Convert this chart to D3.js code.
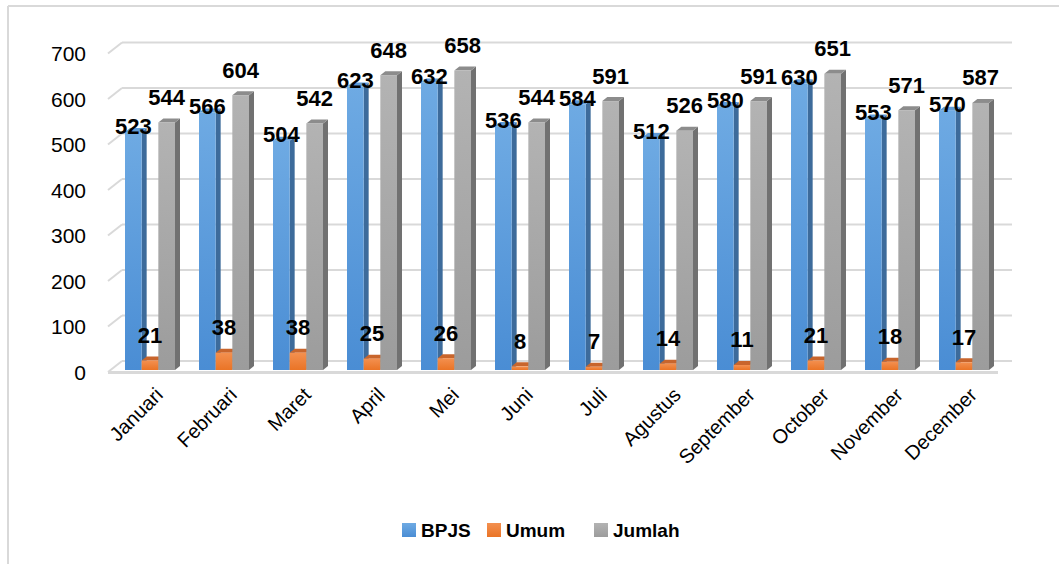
<!DOCTYPE html>
<html>
<head>
<meta charset="utf-8">
<script src="https://cdn.jsdelivr.net/npm/d3@7"></script>
<style>
  html, body { margin: 0; padding: 0; background: #fff; }
  svg { display: block; }
  text { font-family: "Liberation Sans", Arial, sans-serif; }
</style>
</head>
<body>
<svg id="chart" width="1059" height="564"></svg>
<script>
const months = ["Januari","Februari","Maret","April","Mei","Juni","Juli","Agustus","September","October","November","December"];
const bpjs   = [523,566,504,623,632,536,584,512,580,630,553,570];
const umum   = [21,38,38,25,26,8,7,14,11,21,18,17];
const jumlah = [544,604,542,648,658,544,591,526,591,651,571,587];
const seriesNames = ["BPJS","Umum","Jumlah"];
const yTicks = [0,100,200,300,400,500,600,700];

const seriesData = [bpjs, umum, jumlah];
const svg = d3.select("#chart");

// 3D depth offsets
const wallDX = 14, wallDY = -11;   // front -> back wall
const barDX = 5, barDY = -4;       // bar depth

const x0 = d3.scaleBand().domain(months).range([113, 1001]).padding(0);
const x1 = d3.scaleBand().domain(seriesNames).range([12, 62]).padding(0);
const yBar = d3.scaleLinear().domain([0, 700]).range([370, 51.5]);
const yFront = d3.scaleLinear().domain([0, 700]).range([372, 53.5]);

// Gradients
const defs = svg.append("defs");
const palette = {
  BPJS:   {top:"#6eaae3", bottom:"#4a8dd4", side:"#3d6b9b", cap:"#5f9ad6"},
  Umum:   {top:"#f39050", bottom:"#ea7426", side:"#b85a1c", cap:"#c8652c"},
  Jumlah: {top:"#b3b3b3", bottom:"#9c9c9c", side:"#717171", cap:"#8c8c8c"}
};
seriesNames.forEach((s, i) => {
  const g = defs.append("linearGradient").attr("id", "grad" + i)
    .attr("x1", 0).attr("y1", 0).attr("x2", 0).attr("y2", 1);
  g.append("stop").attr("offset", "0%").attr("stop-color", palette[s].top);
  g.append("stop").attr("offset", "100%").attr("stop-color", palette[s].bottom);
});

// Outer border (left and top visible)
svg.append("line").attr("x1", 8).attr("y1", 6).attr("x2", 8).attr("y2", 564)
  .attr("stroke", "#d9d9d9").attr("stroke-width", 2);
svg.append("line").attr("x1", 8).attr("y1", 6).attr("x2", 1059).attr("y2", 6)
  .attr("stroke", "#d9d9d9").attr("stroke-width", 2);

// Gridlines: back wall + left wall diagonal
const plotLeft = 108, plotRight = 998;
const grid = svg.append("g");
yTicks.forEach(v => {
  const yf = yFront(v), yb = yf + wallDY;
  grid.append("line").attr("x1", plotLeft + wallDX).attr("x2", plotRight + wallDX)
    .attr("y1", yb).attr("y2", yb).attr("stroke", "#d9d9d9").attr("stroke-width", 2);
  grid.append("line").attr("x1", plotLeft).attr("y1", yf)
    .attr("x2", plotLeft + wallDX).attr("y2", yb)
    .attr("stroke", "#d9d9d9").attr("stroke-width", 2);
});

// Y tick labels
svg.append("g").selectAll("text").data(yTicks).join("text")
  .attr("x", 86).attr("y", d => yFront(d))
  .attr("text-anchor", "end").attr("dominant-baseline", "central")
  .attr("font-size", 21).attr("fill", "#000")
  .text(d => d);

// Bars
const barsG = svg.append("g");
months.forEach((m, mi) => {
  seriesNames.forEach((s, si) => {
    const v = seriesData[si][mi];
    const xl = x0(m) + x1(s), w = x1.bandwidth();
    const yt = yBar(v), yb = yBar(0);
    const g = barsG.append("g");
    g.append("path").attr("d",
      `M${xl + w},${yb} L${xl + w + barDX},${yb + barDY} L${xl + w + barDX},${yt + barDY} L${xl + w},${yt} Z`)
      .attr("fill", palette[s].side);
    g.append("path").attr("d",
      `M${xl},${yt} L${xl + barDX},${yt + barDY} L${xl + w + barDX},${yt + barDY} L${xl + w},${yt} Z`)
      .attr("fill", palette[s].cap);
    g.append("rect").attr("x", xl).attr("y", yt).attr("width", w).attr("height", yb - yt)
      .attr("fill", `url(#grad${si})`);
  });
});

// Floor front edge
svg.append("line").attr("x1", plotLeft).attr("x2", plotRight).attr("y1", 372.5).attr("y2", 372.5)
  .attr("stroke", "#d9d9d9").attr("stroke-width", 3);

// Data labels
const labelsG = svg.append("g");
months.forEach((m, mi) => {
  seriesNames.forEach((s, si) => {
    const v = seriesData[si][mi];
    const cx = x0(m) + x1(s) + x1.bandwidth() / 2;
    const off = si === 0 ? 6 : 25;
    labelsG.append("text")
      .attr("x", cx).attr("y", yBar(v) - off)
      .attr("text-anchor", "middle").attr("dominant-baseline", "central")
      .attr("font-size", 22).attr("font-weight", "bold").attr("fill", "#000")
      .text(v);
  });
});

// X axis labels (rotated)
svg.append("g").selectAll("text").data(months).join("text")
  .attr("transform", d => `translate(${x0(d) + x0.bandwidth() / 2 + 4},${386}) rotate(-45)`)
  .attr("text-anchor", "end").attr("dominant-baseline", "hanging")
  .attr("font-size", 20).attr("fill", "#000")
  .text(d => d);

// Legend
const legendItems = [
  {name: "BPJS", x: 402},
  {name: "Umum", x: 487},
  {name: "Jumlah", x: 594}
];
const lg = svg.append("g");
legendItems.forEach((it, i) => {
  lg.append("rect").attr("x", it.x).attr("y", 523).attr("width", 14).attr("height", 14)
    .attr("fill", `url(#grad${i})`);
  lg.append("text").attr("x", it.x + 19).attr("y", 530)
    .attr("dominant-baseline", "central").attr("font-size", 19).attr("font-weight", "bold")
    .attr("fill", "#000").text(it.name);
});
</script>
</body>
</html>
